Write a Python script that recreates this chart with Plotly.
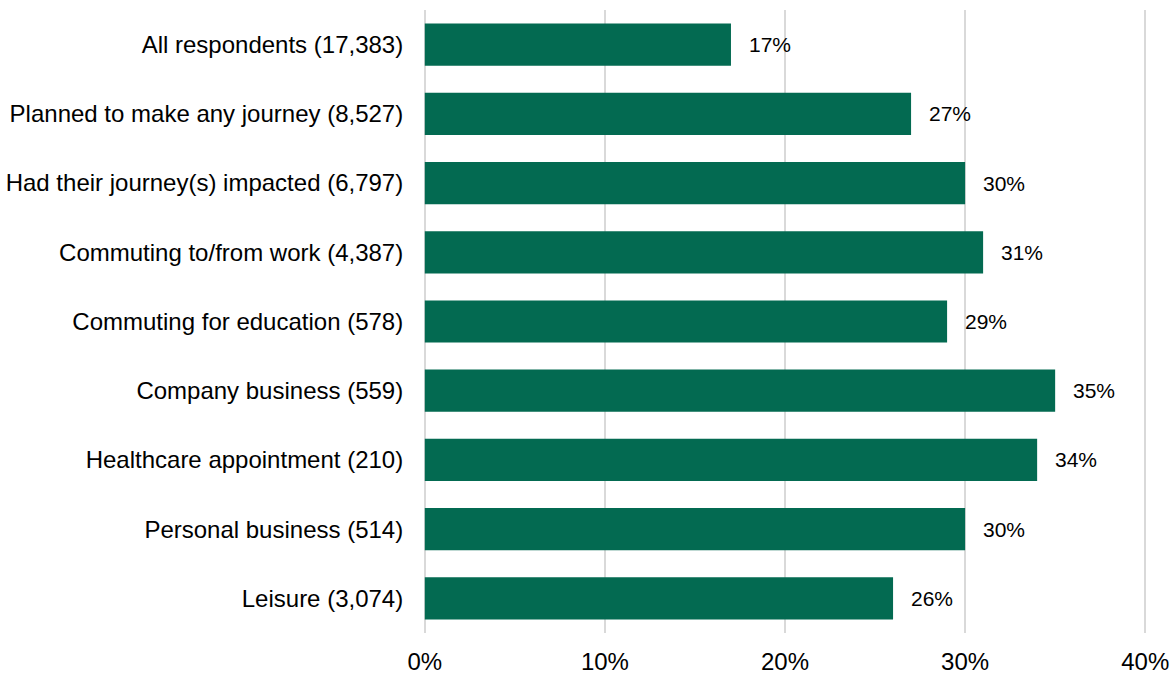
import plotly.graph_objects as go

# Share of respondents, by journey purpose (base sizes in brackets)
categories = [
    "All respondents (17,383)",
    "Planned to make any journey (8,527)",
    "Had their journey(s) impacted (6,797)",
    "Commuting to/from work (4,387)",
    "Commuting for education (578)",
    "Company business (559)",
    "Healthcare appointment (210)",
    "Personal business (514)",
    "Leisure (3,074)",
]
values = [17, 27, 30, 31, 29, 35, 34, 30, 26]
x_ticks = [0, 10, 20, 30, 40]
x_tick_labels = ["0%", "10%", "20%", "30%", "40%"]

BAR_COLOR = "#036A51"
FONT = "Liberation Sans, Arial, sans-serif"

fig = go.Figure(
    go.Bar(
        x=values,
        y=categories,
        orientation="h",
        marker=dict(color=BAR_COLOR, line=dict(width=0)),
        hoverinfo="skip",
    )
)

# value labels just past the end of each bar
for cat, val in zip(categories, values):
    fig.add_annotation(
        x=val, y=cat, text=f"{val}%", showarrow=False,
        xanchor="left", yanchor="middle", xshift=16,
        font=dict(family=FONT, size=21, color="#000000"),
    )

fig.update_layout(
    width=1174, height=675,
    margin=dict(l=423, r=27, t=10, b=42),
    paper_bgcolor="white", plot_bgcolor="white",
    bargap=0.39,
    showlegend=False,
    font=dict(family=FONT, size=24, color="#000000"),
)
# small padding so the 0% and 40% gridlines stay visible
fig.update_xaxes(
    range=[-0.1, 40.1], tickvals=x_ticks, ticktext=x_tick_labels,
    showgrid=True, gridcolor="#D9D9D9", gridwidth=2,
    zeroline=False, showline=False, automargin=False,
    ticks="outside", ticklen=7, tickcolor="rgba(0,0,0,0)",
    tickfont=dict(size=24), fixedrange=True,
)
fig.update_yaxes(
    autorange="reversed", showgrid=False, zeroline=False, showline=False,
    automargin=False,
    ticks="outside", ticklen=14, tickcolor="rgba(0,0,0,0)",
    tickfont=dict(size=24), fixedrange=True,
)

fig.write_html("out.html")
